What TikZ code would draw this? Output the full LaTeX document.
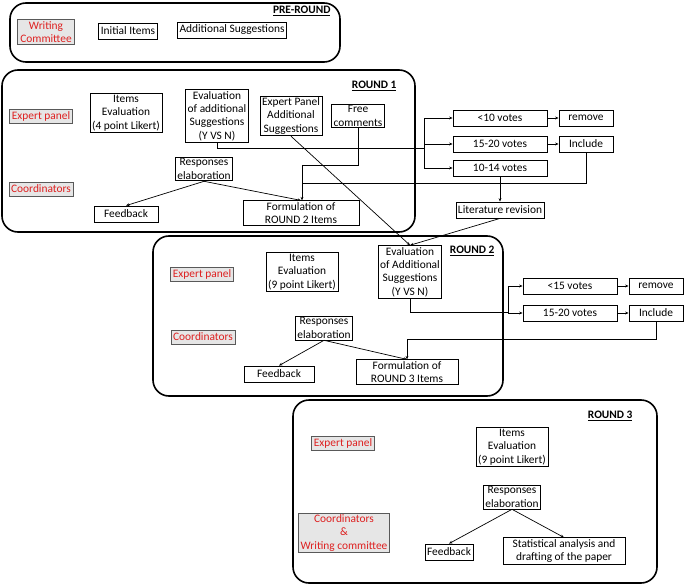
\documentclass[tikz,border=0pt]{standalone}
\usepackage{fontspec}
\setmainfont{Carlito}
\usetikzlibrary{arrows.meta}

\definecolor{RoleRed}{RGB}{222,32,32}
\definecolor{RoleGrey}{RGB}{230,230,230}

\begin{document}
\begin{tikzpicture}[
		x=1pt, y=-1pt,
		box/.style={draw, fill=white, line width=0.8pt, inner xsep=2pt, inner ysep=1.5pt, minimum height=16pt, align=center, font=\fontsize{11.4}{13.4}\selectfont},
		role/.style={box, fill=RoleGrey, draw=black!65, text=RoleRed, minimum height=14pt},
		frame/.style={line width=1.6pt, rounded corners=16pt},
		title/.style={anchor=east, font=\fontsize{11.4}{13.4}\selectfont\bfseries},
		link/.style={line width=0.7pt},
		arrow/.style={link, -{Stealth[length=3.5pt, width=2.8pt]}}
	]
	\useasboundingbox (0,0) rectangle (684,585);

	% Frames
	\draw[frame] (10,3) rectangle (340,62);
	\draw[frame] (2,70) rectangle (415,232);
	\draw[frame] (153,236) rectangle (503,396);
	\draw[frame] (293,400) rectangle (657,583);

	% Pre-round
	\node[title] (t0) at (334,11) {\underline{PRE-ROUND}};
	\node[role, minimum width=57pt] (wc) at (46,32) {Writing\\Committee};
	\node[box] (init) at (128,31) {Initial Items};
	\node[box] (add) at (232,30) {Additional Suggestions};

	% Round 1
	\node[title] (t1) at (400,86) {\underline{ROUND 1}};
	\node[role] (ep1) at (41,116) {Expert panel};
	\node[role] (co1) at (41,189) {Coordinators};
	\node[box] (ie1) at (126,113) {Items\\Evaluation\\(4 point Likert)};
	\node[box] (evr1) at (217,116) {Evaluation\\of additional\\Suggestions\\(Y VS N)};
	\node[box] (eps) at (291,116) {Expert Panel\\Additional\\Suggestions};
	\node[box] (free) at (358,116) {Free\\comments};
	\node[box] (re1) at (204,169) {Responses\\elaboration};
	\node[box, minimum width=64pt] (fb1) at (126,214) {Feedback};
	\node[box, minimum width=116pt] (form2) at (301,213) {Formulation of\\ROUND 2 Items};

	\node[box, minimum width=94pt] (lt10) at (500,118) {<10 votes};
	\node[box, minimum width=54pt] (rm1) at (586,118) {remove};
	\node[box, minimum width=94pt] (v1520a) at (500,144) {15-20 votes};
	\node[box, minimum width=54pt] (inc1) at (586,144) {Include};
	\node[box, minimum width=94pt] (v1014) at (500,168) {10-14 votes};
	\node[box] (lit) at (500,210) {Literature revision};

	\coordinate (split1) at (424,148);
	\coordinate (bend1) at (302,165);
	\coordinate (join1) at (302,183);

	% Round 2
	\node[title] (t2) at (498,251) {\underline{ROUND 2}};
	\node[role] (ep2) at (202,274) {Expert panel};
	\node[role] (co2) at (203,337) {Coordinators};
	\node[box] (ie2) at (302,272) {Items\\Evaluation\\(9 point Likert)};
	\node[box] (evr2) at (410,272) {Evaluation\\of Additional\\Suggestions\\(Y VS N)};
	\node[box] (re2) at (324,328) {Responses\\elaboration};
	\node[box, minimum width=70pt] (fb2) at (279,374) {Feedback};
	\node[box, minimum width=102pt] (form3) at (407,372) {Formulation of\\ROUND 3 Items};

	\node[box, minimum width=94pt] (lt15) at (570,286) {<15 votes};
	\node[box, minimum width=54pt] (rm2) at (656,286) {remove};
	\node[box, minimum width=94pt] (v1520b) at (570,313) {15-20 votes};
	\node[box, minimum width=54pt] (inc2) at (656,313) {Include};

	\coordinate (split2) at (508,312);
	\coordinate (join2) at (407,339);

	% Round 3
	\node[title] (t3) at (636,416) {\underline{ROUND 3}};
	\node[role] (ep3) at (343,443) {Expert panel};
	\node[role, minimum width=91pt] (co3) at (344,533) {Coordinators\\\&\\Writing committee};
	\node[box] (ie3) at (512,447) {Items\\Evaluation\\(9 point Likert)};
	\node[box] (re3) at (512,497) {Responses\\elaboration};
	\node[box] (fb3) at (449,552) {Feedback};
	\node[box, minimum width=122pt] (stat) at (564,551) {Statistical analysis and\\drafting of the paper};

	% Arrows round 1
	\draw[arrow] (re1.south) -- (fb1.north);
	\draw[arrow] (re1.south) -- (form2.north);
	\draw[link] (evr1.south) |- (split1);
	\draw[arrow] (split1) |- (lt10.west);
	\draw[arrow] (split1) |- (v1520a.west);
	\draw[arrow] (split1) |- (v1014.west);
	\draw[arrow] (lt10) -- (rm1);
	\draw[arrow] (v1520a) -- (inc1);
	\draw[arrow] (v1014) -- (lit);
	\draw[link] (free.south) |- (bend1);
	\draw[link] (inc1.south) |- (join1);
	\draw[arrow] (bend1) -- (bend1 |- form2.north);
	\draw[arrow] (eps.south) -- (evr2.north);
	\draw[arrow] (lit.south) -- (evr2.north);

	% Arrows round 2
	\draw[arrow] (re2.south) -- (fb2.north);
	\draw[arrow] (re2.south) -- (form3.north);
	\draw[link] (evr2.south) |- (split2);
	\draw[arrow] (split2) |- (lt15.west);
	\draw[arrow] (split2) |- (v1520b.west);
	\draw[arrow] (lt15) -- (rm2);
	\draw[arrow] (v1520b) -- (inc2);
	\draw[link] (inc2.south) |- (join2);
	\draw[arrow] (join2) -- (form3.north);

	% Arrows round 3
	\draw[arrow] (re3.south) -- (fb3.north);
	\draw[arrow] (re3.south) -- (stat.north);

\end{tikzpicture}
\end{document}
